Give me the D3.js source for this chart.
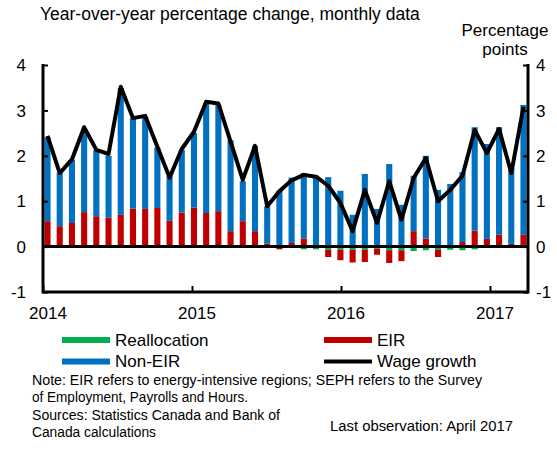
<!DOCTYPE html>
<html>
<head>
<meta charset="utf-8">
<script src="https://cdn.jsdelivr.net/npm/d3@7"></script>
<style>
body { margin: 0; background: #fff; }
text { font-family: "Liberation Sans", Arial, sans-serif; fill: #000; }
.note { font-family: "Liberation Sans Narrow", "Arial Narrow", "Liberation Sans", sans-serif; font-size: 15.5px; }
</style>
</head>
<body>
<div id="container"></div>
<script>
// monthly, Jan 2014 - Apr 2017
var months = d3.timeMonth.range(new Date(2014, 0, 1), new Date(2017, 4, 1));

var reallocation = [0, 0.02, 0.02, 0.02, 0.01, 0.01, 0, 0, 0.01, 0, 0, 0,
    0, 0, 0, 0, 0, -0.02, -0.01, -0.01, -0.03, -0.06, -0.06, -0.07,
    -0.07, -0.07, -0.07, -0.05, -0.08, -0.08, -0.1, -0.08, -0.07, -0.07, -0.08, -0.06,
    -0.03, -0.03, -0.03, -0.01];
var eir = [0.56, 0.43, 0.5, 0.74, 0.66, 0.63, 0.7, 0.84, 0.82, 0.85, 0.57, 0.75,
    0.86, 0.74, 0.78, 0.34, 0.56, 0.34, 0.07, -0.05, 0.08, 0.18, 0, -0.16,
    -0.23, -0.28, -0.27, -0.13, -0.28, -0.24, 0.34, 0.18, -0.16, 0, 0.1, 0.35,
    0.17, 0.26, 0.06, 0.26];
var nonEir = [1.85, 1.18, 1.39, 1.83, 1.46, 1.36, 2.79, 1.99, 2.03, 1.33, 0.98, 1.38,
    1.64, 2.42, 2.34, 2.0, 0.88, 1.88, 0.82, 1.23, 1.44, 1.44, 1.56, 1.53,
    1.23, 0.7, 1.6, 0.83, 1.82, 0.92, 1.22, 1.82, 1.25, 1.38, 1.54, 2.28,
    2.09, 2.37, 1.67, 2.86];
var wageGrowth = [2.44, 1.62, 1.92, 2.63, 2.13, 2.04, 3.52, 2.83, 2.88, 2.2, 1.52, 2.15,
    2.53, 3.19, 3.15, 2.31, 1.47, 2.22, 0.89, 1.22, 1.46, 1.58, 1.54, 1.34,
    0.96, 0.34, 1.25, 0.52, 1.44, 0.59, 1.51, 1.95, 1.0, 1.25, 1.56, 2.57,
    2.06, 2.59, 1.62, 3.08];
var yTicks = [-1, 0, 1, 2, 3, 4];
var yearTicks = [2014, 2015, 2016, 2017];

var seriesKeys = ['reallocation', 'eir', 'nonEir'];
var colors = { reallocation: '#00b050', eir: '#c00000', nonEir: '#0070c0' };

var width = 557,
    height = 462;

// plot box (note: "top" is reserved on window, so use other names)
var pLeft = 43, pRight = 528, pTop = 65, pBottom = 292;

var svg = d3.select('div#container')
    .append('svg')
    .attr('width', width)
    .attr('height', height);

var x = d3.scaleBand()
    .domain(months)
    .range([pLeft, pRight])
    .paddingInner(0.5)
    .paddingOuter(0.12);

var y = d3.scaleLinear().domain([-1, 4]).range([pBottom, pTop]);

// year ticks sit on a slightly wider spacing than the bars
var xYear = d3.scaleLinear().domain([2014, 2017]).range([pLeft, 490]);

var rows = months.map(function(m, i) {
    return { month: m, reallocation: reallocation[i], eir: eir[i], nonEir: nonEir[i] };
});

var stacked = d3.stack()
    .keys(seriesKeys)
    .offset(d3.stackOffsetDiverging)(rows);

svg.append('g')
    .selectAll('g')
    .data(stacked)
    .join('g')
    .attr('fill', function(d) { return colors[d.key]; })
    .selectAll('rect')
    .data(function(d) { return d; })
    .join('rect')
    .attr('x', function(d) { return x(d.data.month); })
    .attr('width', x.bandwidth())
    .attr('y', function(d) { return y(Math.max(d[0], d[1])); })
    .attr('height', function(d) { return Math.abs(y(d[0]) - y(d[1])); });

// zero line
svg.append('line')
    .attr('x1', pLeft).attr('x2', pRight)
    .attr('y1', y(0)).attr('y2', y(0))
    .attr('stroke', '#000').attr('stroke-width', 3);

// wage growth line
var line = d3.line()
    .x(function(d, i) { return x(months[i]) + x.bandwidth() / 2; })
    .y(function(d) { return y(d); });

svg.append('path')
    .datum(wageGrowth)
    .attr('fill', 'none')
    .attr('stroke', '#000')
    .attr('stroke-width', 4)
    .attr('stroke-linejoin', 'round')
    .attr('d', line);

// axes
var leftAxis = svg.append('g')
    .attr('transform', 'translate(' + pLeft + ',0)')
    .call(d3.axisRight(y).tickValues(yTicks).tickSize(5).tickFormat(''));
var rightAxis = svg.append('g')
    .attr('transform', 'translate(' + pRight + ',0)')
    .call(d3.axisLeft(y).tickValues(yTicks).tickSize(5).tickFormat(''));
var bottomAxis = svg.append('g')
    .attr('transform', 'translate(0,' + pBottom + ')')
    .call(d3.axisTop(xYear).tickValues(yearTicks).tickSize(6).tickFormat(''));

[leftAxis, rightAxis, bottomAxis].forEach(function(g) {
    g.select('.domain').remove();
    g.selectAll('.tick line').attr('stroke', '#000').attr('stroke-width', 2);
});

svg.append('line')
    .attr('x1', pLeft).attr('x2', pLeft).attr('y1', pTop - 1).attr('y2', pBottom + 1.5)
    .attr('stroke', '#000').attr('stroke-width', 3);
svg.append('line')
    .attr('x1', pRight).attr('x2', pRight).attr('y1', pTop - 1).attr('y2', pBottom + 1.5)
    .attr('stroke', '#000').attr('stroke-width', 3);
svg.append('line')
    .attr('x1', pLeft).attr('x2', pRight).attr('y1', pBottom).attr('y2', pBottom)
    .attr('stroke', '#000').attr('stroke-width', 3);

// tick labels
svg.append('g').selectAll('text')
    .data(yTicks).join('text')
    .attr('x', 26).attr('y', function(d) { return y(d); })
    .attr('dy', '0.36em')
    .attr('text-anchor', 'end')
    .style('font-size', '17px')
    .text(function(d) { return d; });
svg.append('g').selectAll('text')
    .data(yTicks).join('text')
    .attr('x', 536).attr('y', function(d) { return y(d); })
    .attr('dy', '0.36em')
    .style('font-size', '17px')
    .text(function(d) { return d; });
svg.append('g').selectAll('text')
    .data(yearTicks).join('text')
    .attr('x', function(d) { return xYear(d) + 5; })
    .attr('y', 319)
    .attr('text-anchor', 'middle')
    .style('font-size', '17px')
    .text(function(d) { return d; });

// titles
svg.append('text').attr('x', 40).attr('y', 20)
    .style('font-size', '17.5px')
    .text('Year-over-year percentage change, monthly data');
svg.append('text').attr('x', 505).attr('y', 36)
    .attr('text-anchor', 'middle').style('font-size', '17px')
    .text('Percentage');
svg.append('text').attr('x', 505).attr('y', 55)
    .attr('text-anchor', 'middle').style('font-size', '17px')
    .text('points');

// legend
var legend = [
    { label: 'Reallocation', key: 'reallocation', x: 62, y: 340 },
    { label: 'EIR', key: 'eir', x: 324, y: 340 },
    { label: 'Non-EIR', key: 'nonEir', x: 62, y: 361.5 },
    { label: 'Wage growth', key: 'wage', x: 324, y: 361.5 }
];
var lg = svg.append('g').selectAll('g').data(legend).join('g')
    .attr('transform', function(d) { return 'translate(' + d.x + ',' + d.y + ')'; });
lg.append('rect')
    .attr('x', 0).attr('width', 48)
    .attr('y', function(d) { return d.key === 'wage' ? -2 : -3; })
    .attr('height', function(d) { return d.key === 'wage' ? 4 : 6; })
    .attr('fill', function(d) { return d.key === 'wage' ? '#000' : colors[d.key]; });
lg.append('text')
    .attr('x', 53).attr('y', 5.5)
    .style('font-size', '17px')
    .text(function(d) { return d.label; });

// notes (narrow face in the original, so squeeze to its width)
var notes = [
    { text: 'Note: EIR refers to energy-intensive regions; SEPH refers to the Survey', x: 32, y: 384.5, w: 450 },
    { text: 'of Employment, Payrolls and Hours.', x: 32, y: 402, w: 216 },
    { text: 'Sources: Statistics Canada and Bank of', x: 32, y: 419.5, w: 248 },
    { text: 'Canada calculations', x: 32, y: 437, w: 124 },
    { text: 'Last observation: April 2017', x: 330, y: 431, w: 183 }
];
svg.append('g').selectAll('text')
    .data(notes).join('text')
    .attr('class', 'note')
    .attr('x', function(d) { return d.x; })
    .attr('y', function(d) { return d.y; })
    .attr('textLength', function(d) { return d.w; })
    .attr('lengthAdjust', 'spacingAndGlyphs')
    .text(function(d) { return d.text; });
</script>
</body>
</html>
